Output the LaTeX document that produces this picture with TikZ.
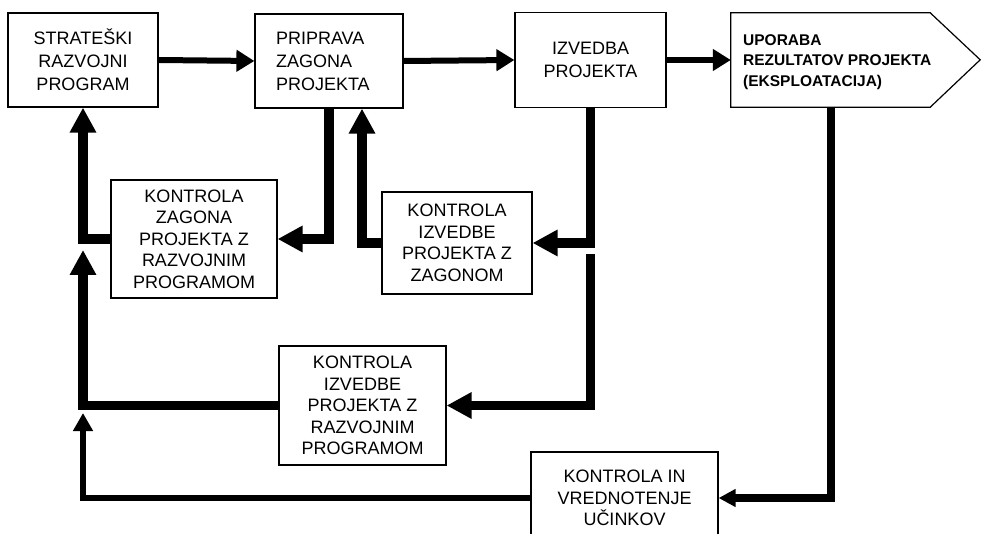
\documentclass[tikz,border=0pt]{standalone}
\usepackage{fontspec}
\setmainfont{Liberation Sans}
\usetikzlibrary{arrows.meta,calc}
\begin{document}
\begin{tikzpicture}[x=1pt,y=-1pt,
  box/.style={draw, line width=1.2pt, inner sep=0pt, align=center,
              font=\fontsize{18}{21.5}\selectfont},
  topbox/.style={box, font=\fontsize{18}{23}\selectfont},
  flow/.style={line width=6pt, -{Triangle[length=18pt,width=21pt]}},
  feed/.style={line width=9.5pt, line join=miter, -{Triangle[length=25pt,width=25pt]}},
  feedthin/.style={line width=6.5pt, line join=miter, -{Triangle[length=18pt,width=19pt]}},
  feeduse/.style={line width=8pt, line join=miter, -{Triangle[length=17pt,width=17pt]}},
  plain/.style={line width=9.5pt, line join=miter}
]
\useasboundingbox (0,0) rectangle (981,534);

% main process chain
\node[topbox, minimum width=150pt, minimum height=94pt] (s) at (83,60)
  {STRATEŠKI\\RAZVOJNI\\PROGRAM};
\node[topbox, minimum width=148pt, minimum height=94pt, align=left, text width=106pt] (p) at (329,61)
  {PRIPRAVA\\ZAGONA\\PROJEKTA};
\node[topbox, minimum width=151pt, minimum height=95pt] (i) at (590.5,60)
  {IZVEDBA\\PROJEKTA};

% exploitation stage: pointed box
\node[minimum width=199pt, minimum height=94pt, inner sep=0pt] (use) at (830.5,60) {};
\draw[line width=1.2pt, line join=miter]
  (use.north west) -- (use.north east) -- ++(50,47) -- (use.south east)
  -- (use.south west) -- cycle;
\node[anchor=west, align=left, inner sep=0pt,
      font=\bfseries\fontsize{15.5}{20.5}\selectfont] (usetxt) at (743,62)
  {UPORABA\\REZULTATOV PROJEKTA\\(EKSPLOATACIJA)};

% control boxes
\node[box, minimum width=166pt, minimum height=118pt] (k1) at (194,239)
  {KONTROLA\\ZAGONA\\PROJEKTA Z\\RAZVOJNIM\\PROGRAMOM};
\node[box, minimum width=150pt, minimum height=102pt] (k2) at (457,243)
  {KONTROLA\\IZVEDBE\\PROJEKTA Z\\ZAGONOM};
\node[box, minimum width=167pt, minimum height=119pt] (k3) at (362.5,405.5)
  {KONTROLA\\IZVEDBE\\PROJEKTA Z\\RAZVOJNIM\\PROGRAMOM};
\node[box, minimum width=187pt, minimum height=92pt] (k4) at (624.5,498)
  {KONTROLA IN\\VREDNOTENJE\\UČINKOV};

% free ends of the feedback lines
\coordinate (split) at (590.5,254);
\coordinate (tipA) at (83,250);
\coordinate (tipB) at (83,413);

% forward flow
\draw[flow] (s.east) -- (p.west);
\draw[flow] (p.east) -- (i.west);
\draw[flow] (i.east) -- (i.east -| use.west);

% launch control loop
\draw[feed] (p.south) |- (k1.east);
\draw[feed] (k1.west) -| (s.south);

% execution vs. launch loop
\draw[feed] (i.south) |- (k2.east);
\draw[feed] (k2.west) -| ([xshift=33pt]p.south);

% execution vs. programme loop
\draw[feed] (split) |- (k3.east);
\draw[feed] (k3.west) -| (tipA);

% effects evaluation loop
\draw[feeduse] (use.south) |- (k4.east);
\draw[feedthin] (k4.west) -| (tipB);
\end{tikzpicture}
\end{document}
